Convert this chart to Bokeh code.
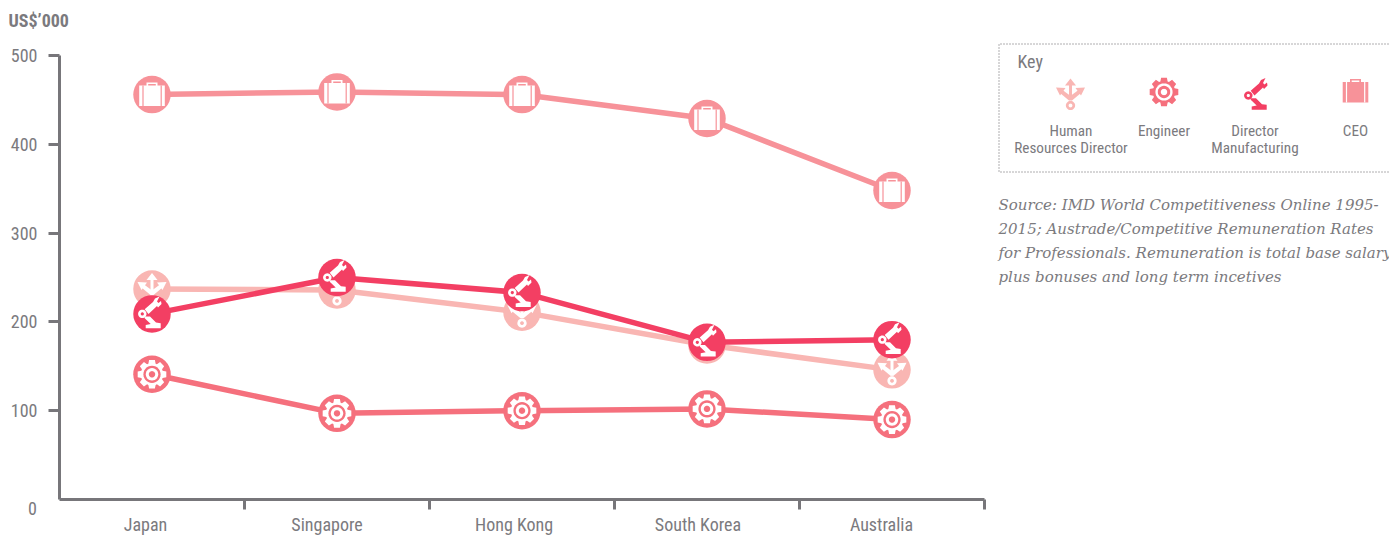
import math
from bokeh.plotting import figure
from bokeh.layouts import row
from bokeh.models import Range1d, LinearAxis, FixedTicker, Label
from bokeh.embed import file_html
from bokeh.resources import INLINE

categories = ["Japan", "Singapore", "Hong Kong", "South Korea", "Australia"]
ceo = [456, 459, 456, 429, 348]
hr_director = [237, 236, 211, 174, 146]
engineer = [141, 97, 100, 102, 90]
director_mfg = [209, 250, 233, 177, 180]
y_ticks = [100, 200, 300, 400, 500]

GREY = "#77767a"
TXT = "#7b7a7e"
NARROW = "Roboto Condensed"
C_CEO, C_HR, C_ENG, C_DIR = "#f79299", "#f9b6b3", "#f5707d", "#f33f63"

def circ(cx, cy, r, n=28):
    return [(cx + r * math.cos(2 * math.pi * i / n), cy + r * math.sin(2 * math.pi * i / n)) for i in range(n)]

def gear_icon():
    pts = []
    for t in range(8):
        a = t * math.pi / 4 - math.pi / 2
        for da, r in [(-0.33, 11.2), (-0.2, 14.6), (0.2, 14.6), (0.33, 11.2)]:
            pts.append((r * math.cos(a + da), r * math.sin(a + da)))
    return [("fg", pts), ("bg", circ(0, 0, 8.6)), ("fg", circ(0, 0, 6.2)), ("bg", circ(0, 0, 3.2))]

def case_icon():
    def rect(a, b, c, d):
        return [(a, b), (c, b), (c, d), (a, d)]
    return [("fg", rect(-5.5, -12, 5.5, -8.5)), ("bg", rect(-3.8, -10.5, 3.8, -8.5)),
            ("fg", rect(-12.8, -9, 12.8, 11.5)),
            ("bg", rect(-9.6, -9, -8.4, 11.5)), ("bg", rect(8.6, -9, 9.8, 11.5))]

def robot_icon():
    return [("fg", [(-7.3, 2.7), (-2, 2.7), (4, 8.7), (8.7, 9.3), (8.7, 14.3), (-6.3, 14.3), (-6.3, 11), (-1.3, 10), (-7.3, 4.3)]),
            ("fg", [(-7.3, -4.7), (1, -12), (3, -15.5), (7.5, -17.5), (6, -14.5), (5, -12.5), (6.5, -11),
                    (9, -13), (9.5, -10), (6, -6.5), (5, -8), (-3.5, 0)]),
            ("fg", circ(-9.7, 0, 4.2)), ("bg", circ(-9.7, 0, 1.6))]

def arrows_icon():
    return [("fg", circ(0, 11, 4.6)), ("bg", circ(0, 11, 1.9)),
            ("fg", [(-1.5, -10), (1.5, -10), (1.5, 6), (-1.5, 6)]),
            ("fg", [(0, -16), (5.5, -9), (-5.5, -9)]),
            ("fg", [(-1.5, 6), (-10.5, -1.5), (-8, -4.5), (1.5, 2.5)]),
            ("fg", [(1.5, 6), (10.5, -1.5), (8, -4.5), (-1.5, 2.5)]),
            ("fg", [(-14.5, -7), (-5, -6.5), (-10.5, 1)]),
            ("fg", [(14.5, -7), (5, -6.5), (10.5, 1)])]

# ---------- chart: the frame fills the canvas, the axes sit at fixed data locations ----------
FW, FH = 990, 535
AX_L, AX_B = 59, 499
PX_X, PX_Y = 185.0, 444 / 500
p = figure(width=FW, height=FH, output_backend="svg", toolbar_location=None,
           x_range=Range1d(-AX_L / PX_X, (FW - AX_L) / PX_X),
           y_range=Range1d((AX_B - FH) / PX_Y, AX_B / PX_Y),
           x_axis_type=None, y_axis_type=None,
           min_border_left=0, min_border_right=0, min_border_top=0, min_border_bottom=0)
p.grid.visible = False
p.outline_line_color = None
p.background_fill_color = "white"
p.border_fill_color = "white"

yax = LinearAxis(ticker=FixedTicker(ticks=y_ticks), bounds=(0, 500), fixed_location=0,
                 axis_line_color=GREY, axis_line_width=3, major_tick_line_color=GREY, major_tick_line_width=3,
                 major_tick_out=11, major_tick_in=0, minor_tick_line_color=None, major_label_standoff=11,
                 major_label_text_font=NARROW, major_label_text_font_size="18px", major_label_text_color=TXT)
p.add_layout(yax, "left")

lab_pos = [0.465, 1.446, 2.457, 3.451, 4.443]
xax = LinearAxis(ticker=FixedTicker(ticks=lab_pos, minor_ticks=[1, 2, 3, 4, 5]), bounds=(0, 5), fixed_location=0,
                 major_label_overrides=dict(zip(lab_pos, categories)),
                 axis_line_color=GREY, axis_line_width=3, major_tick_line_color=None,
                 major_tick_out=0, major_tick_in=0, minor_tick_line_color=GREY, minor_tick_line_width=3,
                 minor_tick_out=10, minor_tick_in=0, major_label_standoff=4,
                 major_label_text_font=NARROW, major_label_text_font_size="18px", major_label_text_color=TXT)
p.add_layout(xax, "below")

p.add_layout(Label(x=32, y=FH - 508, x_units="screen", y_units="screen", text="0", text_font=NARROW, text_font_size="18px",
                   text_color=TXT, text_baseline="middle", text_align="center"))
p.add_layout(Label(x=8, y=FH - 20, x_units="screen", y_units="screen", text="US$\u2019000", text_font=NARROW, text_font_size="18px",
                   text_font_style="bold", text_color=TXT, text_baseline="middle"))

xs = [i + 0.5 for i in range(len(categories))]

def draw_series(vals, color, icon):
    p.line(xs, vals, line_color=color, line_width=5.5)
    p.scatter(xs, vals, size=37.5, fill_color=color, line_color=None)
    for x, v in zip(xs, vals):
        for kind, poly in icon:
            p.patch([x + dx / PX_X for dx, dy in poly], [v - dy / PX_Y for dx, dy in poly],
                    fill_color="white" if kind == "fg" else color, line_color=None)

draw_series(ceo, C_CEO, case_icon())
draw_series(hr_director, C_HR, arrows_icon())
draw_series(engineer, C_ENG, gear_icon())
draw_series(director_mfg, C_DIR, robot_icon())

# ---------- key + source (pixel-scaled panel) ----------
KW = 399
k = figure(width=KW, height=FH, output_backend="svg", toolbar_location=None,
           x_range=Range1d(990, 1389), y_range=Range1d(FH, 0),
           x_axis_type=None, y_axis_type=None,
           min_border_left=0, min_border_right=0, min_border_top=0, min_border_bottom=0)
k.grid.visible = False
k.outline_line_color = None
k.line([1400, 998.5, 998.5, 1400], [43.5, 43.5, 171.5, 171.5], line_color="#5f5e62", line_width=1, line_dash="1 2")

def txt(x, y, s, size, font=NARROW, align="center", style="normal"):
    k.add_layout(Label(x=x, y=y, text=s, text_font=font, text_font_size=size, text_color=TXT, text_align=align,
                       text_baseline="middle", text_font_style=style))

txt(1017, 60.5, "Key", "18px", align="left")
key = [(1070, 94, 1070.5, ["Human", "Resources Director"], C_HR, arrows_icon()),
       (1163.5, 91.5, 1163.5, ["Engineer"], C_ENG, gear_icon()),
       (1257.5, 95, 1254.5, ["Director", "Manufacturing"], C_DIR, robot_icon()),
       (1355, 90.5, 1355, ["CEO"], C_CEO, case_icon())]
for cx, cy, tx, lines, col, icon in key:
    for kind, poly in icon:
        k.patch([cx + a for a, b in poly], [cy + b for a, b in poly],
                fill_color=col if kind == "fg" else "white", line_color=None)
    for j, s in enumerate(lines):
        txt(tx, 130.5 + j * 16.5, s, "15.2px")

source_lines = ["Source: IMD World Competitiveness Online 1995-",
                "2015; Austrade/Competitive Remuneration Rates",
                "for Professionals. Remuneration is total base salary",
                "plus bonuses and long term incetives"]
for j, s in enumerate(source_lines):
    txt(998, 204 + j * 24.2, s, "15px", font="DejaVu Serif", align="left", style="italic")

open("out.html", "w").write(file_html(row(p, k, spacing=0), INLINE))
